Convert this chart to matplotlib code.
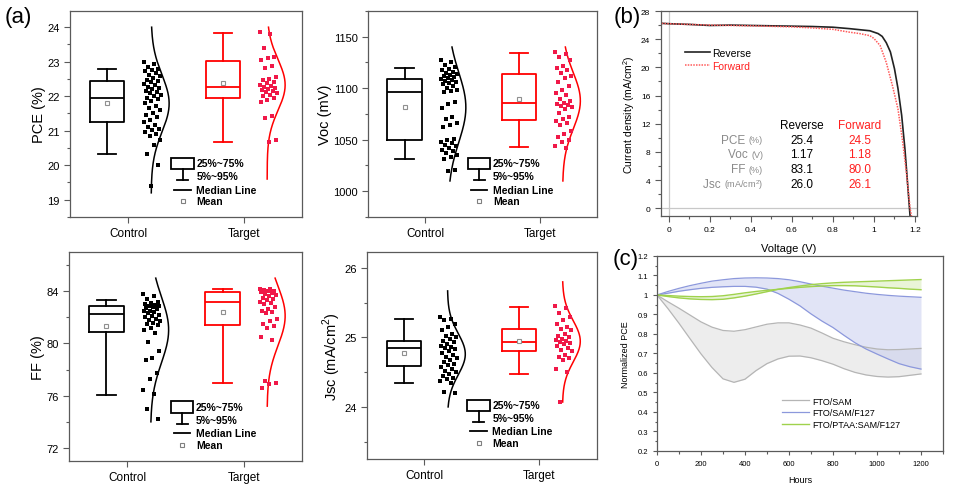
import numpy as np
import matplotlib
matplotlib.use('Agg')
import matplotlib.pyplot as plt
from matplotlib.patches import Rectangle
from matplotlib.ticker import MultipleLocator, FuncFormatter

plt.rcParams['font.family'] = ['Liberation Sans', 'DejaVu Sans']
plt.rcParams['mathtext.fontset'] = 'custom'
plt.rcParams['mathtext.rm'] = 'Liberation Sans'

groups = ['Control', 'Target']

# box stats: whislo, q1, med, q3, whishi, mean
pce_box = [[20.32, 21.24, 21.95, 22.45, 22.79, 21.80],
           [20.68, 21.96, 22.28, 23.02, 23.84, 22.37]]
voc_box = [[1031.5, 1049.9, 1096.6, 1109.4, 1119.4, 1082.0],
           [1042.5, 1069.2, 1085.3, 1114.0, 1133.9, 1089.8]]
ff_box = [[76.06, 80.86, 82.29, 82.90, 83.34, 81.37],
          [76.95, 81.45, 83.20, 83.95, 84.18, 82.39]]
jsc_box = [[24.35, 24.59, 24.85, 24.95, 25.26, 24.78],
           [24.47, 24.81, 24.93, 25.12, 25.44, 24.95]]

# individual devices
pce_control = [23.00, 22.92, 22.85, 22.80, 22.76, 22.72, 22.66, 22.62, 22.58, 22.52, 22.48, 22.44,
               22.40, 22.36, 22.32, 22.28, 22.24, 22.20, 22.16, 22.12, 22.08, 22.04, 22.00, 21.96,
               21.92, 21.86, 21.80, 21.72, 21.66, 21.60, 21.52, 21.46, 21.40, 21.32, 21.24, 21.18,
               21.12, 21.06, 21.02, 20.96, 20.90, 20.84, 20.72, 20.60, 20.32, 20.00, 19.40]
pce_target = [23.86, 23.80, 23.40, 23.15, 23.10, 23.05, 22.88, 22.82, 22.55, 22.50, 22.46, 22.42,
              22.38, 22.33, 22.30, 22.27, 22.24, 22.21, 22.18, 22.15, 22.12, 22.08, 22.04, 22.00,
              21.95, 21.88, 21.84, 21.42, 21.36, 20.72, 20.66]
voc_control = [1127, 1125, 1123, 1121, 1119, 1118, 1116, 1115, 1114, 1113, 1112, 1111, 1110, 1109,
               1108, 1107, 1106, 1105, 1104, 1102, 1100, 1098, 1097, 1096, 1087, 1085, 1081, 1072,
               1070, 1066, 1064, 1062, 1051, 1050, 1048, 1047, 1045, 1044, 1042, 1040, 1039, 1037,
               1035, 1033, 1031, 1021, 1020]
voc_target = [1135, 1133, 1130, 1127, 1122, 1120, 1118, 1115, 1112, 1110, 1106, 1102, 1098, 1095,
              1093, 1090, 1088, 1086, 1085, 1084, 1083, 1082, 1080, 1076, 1072, 1070, 1068, 1066,
              1064, 1058, 1056, 1053, 1050, 1048, 1044, 1042]
ff_control = [83.8, 83.6, 83.4, 83.2, 83.1, 83.0, 82.95, 82.9, 82.85, 82.8, 82.7, 82.6, 82.5, 82.45,
              82.4, 82.3, 82.2, 82.1, 82.0, 81.9, 81.8, 81.7, 81.6, 81.5, 81.4, 81.2, 81.0, 80.8,
              80.1, 79.4, 78.9, 78.7, 77.7, 77.3, 76.4, 76.1, 75.0, 74.2]
ff_target = [84.2, 84.15, 84.1, 84.0, 84.0, 83.95, 83.9, 83.8, 83.7, 83.6, 83.5, 83.4, 83.3, 83.2,
             83.1, 83.0, 82.8, 82.6, 82.5, 82.4, 82.3, 81.9, 81.7, 81.5, 81.3, 81.2, 80.5, 80.3,
             77.1, 77.0, 76.9, 76.6]
jsc_control = [25.30, 25.27, 25.25, 25.20, 25.15, 25.10, 25.05, 25.02, 25.00, 24.98, 24.95, 24.93,
               24.90, 24.88, 24.86, 24.85, 24.83, 24.80, 24.78, 24.75, 24.72, 24.70, 24.68, 24.65,
               24.62, 24.60, 24.58, 24.55, 24.52, 24.50, 24.47, 24.45, 24.42, 24.40, 24.38, 24.35,
               24.22, 24.20]
jsc_target = [25.45, 25.43, 25.35, 25.30, 25.25, 25.20, 25.15, 25.12, 25.10, 25.05, 25.02, 25.00,
              24.98, 24.97, 24.95, 24.93, 24.92, 24.90, 24.88, 24.85, 24.82, 24.80, 24.75, 24.72,
              24.70, 24.68, 24.55, 24.50, 24.07]

# y span of the fitted normal curves
pce_curve = [(19.2, 24.0), (19.6, 24.0)]
voc_curve = [(1010, 1140), (1010, 1140)]
ff_curve = [(74.0, 85.0), (75.2, 85.0)]
jsc_curve = [(24.0, 25.67), (24.07, 25.8)]

# panel (b) J-V
v_rev = [-0.035, 0.0, 0.1, 0.2, 0.3, 0.4, 0.5, 0.6, 0.7, 0.8, 0.88, 0.93, 0.98, 1.0, 1.02, 1.04,
         1.06, 1.08, 1.10, 1.117, 1.135, 1.151, 1.166, 1.176]
j_rev = [26.25, 26.2, 26.1, 25.95, 26.0, 25.95, 25.9, 25.85, 25.8, 25.7, 25.5, 25.35, 25.2, 25.0,
         24.8, 24.4, 23.5, 22.2, 19.8, 17.0, 13.2, 8.4, 2.7, -1.1]
v_fwd = [-0.035, 0.0, 0.2, 0.4, 0.6, 0.7, 0.8, 0.88, 0.93, 0.98, 1.0, 1.03, 1.06, 1.09, 1.117,
         1.14, 1.16, 1.176, 1.183]
j_fwd = [26.25, 26.2, 26.0, 25.9, 25.75, 25.6, 25.4, 25.0, 24.8, 24.5, 24.1, 23.1, 20.7, 17.4,
         14.1, 9.4, 4.6, 0.0, -1.1]
table_rows = ['PCE', 'Voc', 'FF', 'Jsc']
table_units = ['(%)', '(V)', '(%)', '(mA/cm$^2$)']
rev_vals = ['25.4', '1.17', '83.1', '26.0']
fwd_vals = ['24.5', '1.18', '80.0', '26.1']

# panel (c) stability
hours = [0, 50, 100, 150, 200, 250, 300, 350, 400, 450, 500, 550, 600, 650, 700, 750, 800, 850,
         900, 950, 1000, 1050, 1100, 1150, 1200]
sam_hi = [1.0, 0.965, 0.932, 0.897, 0.862, 0.835, 0.818, 0.814, 0.822, 0.836, 0.850, 0.857, 0.857,
          0.846, 0.830, 0.805, 0.778, 0.760, 0.745, 0.732, 0.723, 0.719, 0.720, 0.723, 0.726]
sam_lo = [1.0, 0.93, 0.855, 0.776, 0.698, 0.628, 0.57, 0.552, 0.568, 0.612, 0.648, 0.672, 0.686,
          0.687, 0.678, 0.663, 0.645, 0.622, 0.603, 0.59, 0.582, 0.579, 0.581, 0.588, 0.595]
f127_hi = [1.0, 1.018, 1.034, 1.048, 1.06, 1.071, 1.078, 1.084, 1.087, 1.088, 1.087, 1.084, 1.078,
           1.068, 1.056, 1.045, 1.035, 1.025, 1.017, 1.009, 1.003, 0.998, 0.994, 0.991, 0.988]
f127_lo = [1.0, 1.009, 1.019, 1.027, 1.034, 1.039, 1.042, 1.044, 1.044, 1.040, 1.030, 1.008, 0.978,
           0.944, 0.903, 0.866, 0.833, 0.793, 0.755, 0.723, 0.697, 0.672, 0.648, 0.632, 0.62]
ptaa_a = [1.0, 0.992, 0.985, 0.980, 0.977, 0.976, 0.978, 0.985, 0.994, 1.005, 1.017, 1.029, 1.038,
          1.046, 1.053, 1.058, 1.062, 1.065, 1.067, 1.069, 1.071, 1.073, 1.075, 1.077, 1.079]
ptaa_b = [1.0, 0.997, 0.994, 0.992, 0.991, 0.992, 0.996, 1.003, 1.011, 1.018, 1.024, 1.029, 1.034,
          1.039, 1.043, 1.046, 1.048, 1.048, 1.047, 1.044, 1.041, 1.037, 1.034, 1.030, 1.027]

SPINE = '#5a5a5a'
colors = ['black', '#ff0000']
dot_colors = ['black', '#f01848']


def frame(ax, size):
    for s in ax.spines.values():
        s.set_color(SPINE)
        s.set_linewidth(0.9)
    ax.tick_params(which='both', direction='out', color=SPINE, labelsize=size, width=0.8)
    ax.tick_params(which='major', length=4)
    ax.tick_params(which='minor', length=2.5)


def stat_legend(ax):
    t = ax.transAxes
    ax.add_patch(Rectangle((0.437, 0.232), 0.097, 0.055, transform=t, fill=False,
                           ec='black', lw=1.3))
    ax.plot([0.4855, 0.4855], [0.232, 0.178], transform=t, color='black', lw=1.3)
    ax.plot([0.462, 0.509], [0.178, 0.178], transform=t, color='black', lw=1.3)
    ax.plot([0.45, 0.52], [0.133, 0.133], transform=t, color='black', lw=1.3)
    ax.plot([0.4855], [0.077], transform=t, marker='s', ms=3.2, mfc='white', mec='#808080',
            mew=0.8, ls='none')
    for txt, yy in zip(['25%~75%', '5%~95%', 'Median Line', 'Mean'], [0.26, 0.197, 0.133, 0.077]):
        ax.text(0.545, yy, txt, transform=t, fontsize=7.5, fontweight='bold', va='center')


def box_panel(ax, boxes, points, curves, ylim, major, minor, ylabel):
    for i in range(2):
        lo, q1, med, q3, hi, mean = boxes[i]
        st = dict(whislo=lo, q1=q1, med=med, q3=q3, whishi=hi, mean=mean, fliers=[])
        c = colors[i]
        lp = dict(color=c, linewidth=1.3)
        ax.bxp([st], positions=[i + 0.82], widths=0.3, capwidths=0.16, showmeans=True,
               showfliers=False, boxprops=lp, whiskerprops=lp, capprops=lp, medianprops=lp,
               meanprops=dict(marker='s', markersize=3.2, markerfacecolor='white',
                              markeredgecolor='#909090', markeredgewidth=0.8))
        vals = np.array(points[i])
        offs = ((np.arange(len(vals)) * 0.618034) % 1 - 0.5) * 0.15
        ax.scatter(i + 1.21 + offs, vals, marker='s', s=6.5, color=dot_colors[i], linewidths=0,
                   zorder=3)
        ys = np.linspace(curves[i][0], curves[i][1], 200)
        mu, sd = vals.mean(), vals.std(ddof=1)
        ax.plot(i + 1.2 + 0.155 * np.exp(-0.5 * ((ys - mu) / sd) ** 2), ys, color=c, lw=1.1)
    ax.set_xlim(0.5, 2.5)
    ax.set_xticks([1, 2])
    ax.set_xticklabels(groups, fontsize=8.5)
    ax.set_ylim(*ylim)
    ax.yaxis.set_major_locator(MultipleLocator(major))
    ax.yaxis.set_minor_locator(MultipleLocator(minor))
    ax.set_ylabel(ylabel, fontsize=10.5, labelpad=1)
    frame(ax, 8)
    ax.tick_params(axis='x', which='minor', bottom=False)
    ax.tick_params(axis='x', labelsize=8.5)
    stat_legend(ax)


fig = plt.figure(figsize=(9.65, 4.89), dpi=100)

ax1 = fig.add_axes([0.0725, 0.5542, 0.2404, 0.4213])
box_panel(ax1, pce_box, [pce_control, pce_target], pce_curve, (18.5, 24.47), 1, 0.5, 'PCE (%)')
ax2 = fig.add_axes([0.3813, 0.5542, 0.2373, 0.4213])
box_panel(ax2, voc_box, [voc_control, voc_target], voc_curve, (975, 1175), 50, 25, 'Voc (mV)')
ax3 = fig.add_axes([0.0715, 0.0552, 0.2415, 0.4274])
box_panel(ax3, ff_box, [ff_control, ff_target], ff_curve, (71, 87), 4, 2, 'FF (%)')
ax4 = fig.add_axes([0.3803, 0.0593, 0.2383, 0.4233])
box_panel(ax4, jsc_box, [jsc_control, jsc_target], jsc_curve, (23.25, 26.23), 1, 0.5,
          'Jsc (mA/cm$^2$)')

# (b) J-V curves
axb = fig.add_axes([0.6847, 0.5562, 0.2656, 0.4192])
axb.axhline(0, color='#c8c8c8', lw=0.9)
axb.axvline(0, color='#c8c8c8', lw=0.9)
axb.plot(v_rev, j_rev, color='#222222', lw=1.2, label='Reverse')
axb.plot(v_fwd, j_fwd, color='#ff5a5a', lw=1.1, ls=(0, (1, 0.8)), label='Forward')
axb.set_xlim(-0.04, 1.21)
axb.set_ylim(-1.1, 28)
axb.xaxis.set_major_locator(MultipleLocator(0.2))
axb.xaxis.set_minor_locator(MultipleLocator(0.1))
axb.yaxis.set_major_locator(MultipleLocator(4))
axb.yaxis.set_minor_locator(MultipleLocator(2))
axb.xaxis.set_major_formatter(FuncFormatter(lambda v, p: '%g' % round(v, 2)))
frame(axb, 6)
axb.set_xlabel('Voltage (V)', fontsize=8, labelpad=7)
axb.set_ylabel('Current density (mA/cm$^2$)', fontsize=7.5, labelpad=3)
leg = axb.legend(loc='upper left', bbox_to_anchor=(0.075, 0.845), frameon=False, fontsize=7.5,
                 handlelength=2.4, handletextpad=0.2, labelspacing=0.25, borderpad=0)
leg.get_texts()[1].set_color('#ff2020')

t = axb.transAxes
axb.text(0.551, 0.444, 'Reverse', transform=t, fontsize=8.5, ha='center', va='center')
axb.text(0.777, 0.444, 'Forward', transform=t, fontsize=8.5, ha='center', va='center',
         color='#ff2020')
for k, yy in enumerate([0.371, 0.302, 0.229, 0.156]):
    u = axb.text(0.399, yy, table_units[k], transform=t, fontsize=6.5, ha='right', va='center',
                 color='#8a8a8a')
    axb.annotate(table_rows[k] + ' ', xy=(0, 0.5), xycoords=u, fontsize=8.5, ha='right',
                 va='center', color='#8a8a8a')
    axb.text(0.551, yy, rev_vals[k], transform=t, fontsize=8.5, ha='center', va='center')
    axb.text(0.777, yy, fwd_vals[k], transform=t, fontsize=8.5, ha='center', va='center',
             color='#ff2020')

# (c) stability
axc = fig.add_axes([0.6808, 0.0757, 0.2964, 0.3988])
axc.fill_between(hours, sam_lo, sam_hi, color='#d9d9d9', alpha=0.45, lw=0)
axc.fill_between(hours, f127_lo, f127_hi, color='#c5cbee', alpha=0.5, lw=0)
axc.fill_between(hours, ptaa_b, ptaa_a, color='#d8ecb8', alpha=0.55, lw=0)
axc.plot(hours, sam_hi, color='#b5b5b5', lw=0.9, label='FTO/SAM')
axc.plot(hours, sam_lo, color='#b5b5b5', lw=0.9)
axc.plot(hours, f127_hi, color='#8c98dc', lw=0.9, label='FTO/SAM/F127')
axc.plot(hours, f127_lo, color='#8c98dc', lw=0.9)
axc.plot(hours, ptaa_a, color='#9fd24c', lw=1.0, label='FTO/PTAA:SAM/F127')
axc.plot(hours, ptaa_b, color='#9fd24c', lw=1.0)
axc.set_xlim(0, 1300)
axc.set_ylim(0.2, 1.2)
axc.xaxis.set_major_locator(MultipleLocator(200))
axc.xaxis.set_minor_locator(MultipleLocator(100))
axc.yaxis.set_major_locator(MultipleLocator(0.1))
axc.yaxis.set_minor_locator(MultipleLocator(0.05))
axc.yaxis.set_major_formatter(FuncFormatter(lambda v, p: '%g' % round(v, 2)))
frame(axc, 5.5)
axc.tick_params(which='major', length=3)
axc.tick_params(which='minor', length=1.8)
axc.set_xlabel('Hours', fontsize=6.5, labelpad=6)
axc.set_ylabel('Normalized PCE', fontsize=6.5, labelpad=5)
axc.legend(loc='lower left', bbox_to_anchor=(0.42, 0.09), frameon=False, fontsize=6.5,
           handlelength=3.0, handletextpad=0.4, labelspacing=0.3, borderpad=0)

fig.text(0.005, 0.965, '(a)', fontsize=16, va='center')
fig.text(0.636, 0.965, '(b)', fontsize=16, va='center')
fig.text(0.635, 0.47, '(c)', fontsize=16, va='center')

fig.savefig('out.png', dpi=100)
